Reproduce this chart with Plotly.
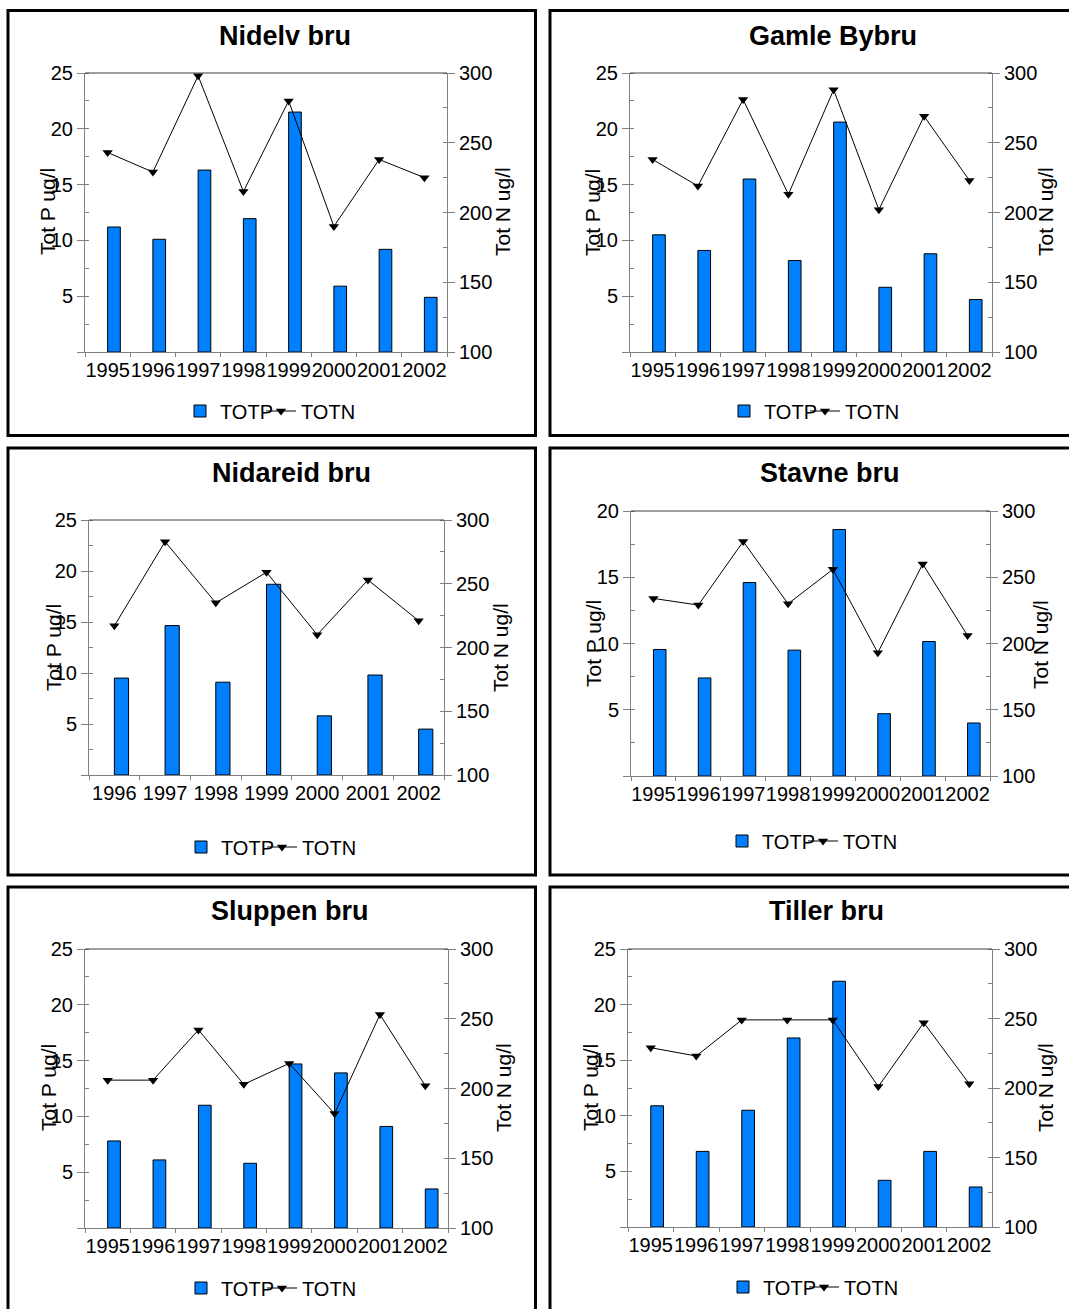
import plotly.graph_objects as go

# ---------------- data ----------------
years_nidelv = ["1995", "1996", "1997", "1998", "1999", "2000", "2001", "2002"]
totp_nidelv = [11.2, 10.1, 16.3, 11.95, 21.5, 5.9, 9.2, 4.9]
totn_nidelv = [243, 229, 298, 215, 280, 190, 238, 225]

years_gamle = ["1995", "1996", "1997", "1998", "1999", "2000", "2001", "2002"]
totp_gamle = [10.5, 9.1, 15.5, 8.2, 20.6, 5.8, 8.8, 4.7]
totn_gamle = [238, 219, 281, 213, 288, 202, 269, 223]

years_nidareid = ["1996", "1997", "1998", "1999", "2000", "2001", "2002"]
totp_nidareid = [9.5, 14.65, 9.1, 18.7, 5.8, 9.8, 4.5]
totn_nidareid = [217, 283, 235, 259, 210, 253, 221]

years_stavne = ["1995", "1996", "1997", "1998", "1999", "2000", "2001", "2002"]
totp_stavne = [9.55, 7.4, 14.6, 9.5, 18.6, 4.7, 10.15, 4.0]
totn_stavne = [234, 229, 277, 230, 256, 193, 260, 206]

years_sluppen = ["1995", "1996", "1997", "1998", "1999", "2000", "2001", "2002"]
totp_sluppen = [7.8, 6.1, 11.0, 5.8, 14.7, 13.9, 9.1, 3.5]
totn_sluppen = [206, 206, 242, 203, 218, 182, 253, 202]

years_tiller = ["1995", "1996", "1997", "1998", "1999", "2000", "2001", "2002"]
totp_tiller = [10.9, 6.8, 10.5, 17.0, 22.1, 4.2, 6.8, 3.6]
totn_tiller = [229, 223, 249, 249, 249, 201, 247, 203]

site_names = ["Nidelv bru", "Gamle Bybru", "Nidareid bru", "Stavne bru", "Sluppen bru", "Tiller bru"]
left_axis_max = [25, 25, 25, 20, 25, 25]
right_axis_range = [100, 300]
left_title = "Tot P ug/l"
right_title = "Tot N ug/l"
series_names = ["TOTP", "TOTN"]

site_years = [years_nidelv, years_gamle, years_nidareid, years_stavne, years_sluppen, years_tiller]
site_totp = [totp_nidelv, totp_gamle, totp_nidareid, totp_stavne, totp_sluppen, totp_tiller]
site_totn = [totn_nidelv, totn_gamle, totn_nidareid, totn_stavne, totn_sluppen, totn_tiller]

# ---------------- layout geometry (pixels) ----------------
W, H = 1069, 1309
FONT = "Arial, Liberation Sans, sans-serif"
BAR_COLOR = "#0080FF"
AXIS_COLOR = "#808080"

# plot area: left, right, top, bottom
plot_px = [
    (85, 447, 73, 352),
    (630, 992, 73, 352),
    (89, 444, 520, 775),
    (631, 990, 511, 776),
    (85, 448, 949, 1228),
    (628, 992, 949, 1227),
]
# panel frames: x0, y0, x1, y1
frame_px = [
    (8, 10.5, 535.5, 435.5),
    (550, 10.5, 1075, 435.5),
    (8, 448, 535.5, 875),
    (550, 448, 1075, 875),
    (8, 887, 535.5, 1320),
    (550, 887, 1075, 1320),
]
title_px = [(285, 36), (833, 36), (291, 473), (830, 473), (290, 911), (826, 911)]
ytitle_left_px = [(48, 212), (592, 213), (53, 648), (593, 644), (48, 1088), (590, 1088)]
ytitle_right_px = [(503, 212), (1046, 212), (500, 648), (1040, 645), (503, 1088), (1045, 1088)]
legend_px = [(200, 411), (744, 411), (201, 847), (742, 841), (201, 1288), (743, 1287)]


def fx(v):
    return v / W


def fy(v):
    return 1 - v / H


fig = go.Figure()
shapes = []
annotations = []
layout = {}

for i in range(6):
    n = i + 1
    xa = "x" if n == 1 else f"x{n}"
    xkey = "xaxis" if n == 1 else f"xaxis{n}"
    lid, rid = 2 * i + 1, 2 * i + 2
    yl = "y" if lid == 1 else f"y{lid}"
    ylkey = "yaxis" if lid == 1 else f"yaxis{lid}"
    yr = f"y{rid}"
    yrkey = f"yaxis{rid}"
    leg_bar = "legend" if lid == 1 else f"legend{lid}"
    leg_line = f"legend{rid}"

    years = site_years[i]
    fig.add_trace(go.Bar(
        x=years, y=site_totp[i], name=series_names[0],
        marker=dict(color=BAR_COLOR, line=dict(color="#000000", width=1)),
        offset=0, width=0.28, xaxis=xa, yaxis=yl, legend=leg_bar,
    ))
    fig.add_trace(go.Scatter(
        x=years, y=site_totn[i], name=series_names[1], mode="lines+markers",
        line=dict(color="#000000", width=1),
        marker=dict(symbol="triangle-down", size=9, color="#000000"),
        xaxis=xa, yaxis=yr, legend=leg_line,
    ))

    l, r, t, b = plot_px[i]
    layout[xkey] = dict(
        domain=[fx(l), fx(r)], anchor=yl, type="category",
        range=[-0.5, len(years) - 0.5],
        tickmode="linear", tick0=0, dtick=1, tickson="boundaries",
        ticks="outside", ticklen=4, tickcolor=AXIS_COLOR, tickangle=0,
        showline=True, linecolor=AXIS_COLOR, linewidth=1,
        showgrid=False, zeroline=False, automargin=False,
        tickfont=dict(family=FONT, size=20, color="#000000"),
    )
    lmax = left_axis_max[i]
    lticks = list(range(0, lmax + 1, 5))
    layout[ylkey] = dict(
        domain=[fy(b), fy(t)], anchor=xa, range=[0, lmax],
        tickmode="array", tickvals=lticks,
        ticktext=["" if v == 0 else str(v) for v in lticks],
        ticks="outside", ticklen=7, tickcolor=AXIS_COLOR,
        minor=dict(tickmode="linear", tick0=0, dtick=2.5, ticks="inside",
                   ticklen=4, tickcolor=AXIS_COLOR),
        showline=True, linecolor=AXIS_COLOR, linewidth=1,
        showgrid=False, zeroline=False, automargin=False,
        tickfont=dict(family=FONT, size=20, color="#000000"),
    )
    layout[yrkey] = dict(
        overlaying=yl, side="right", anchor=xa, range=right_axis_range,
        tickmode="linear", tick0=100, dtick=50,
        ticks="outside", ticklen=7, tickcolor=AXIS_COLOR,
        minor=dict(tickmode="linear", tick0=100, dtick=25, ticks="inside",
                   ticklen=4, tickcolor=AXIS_COLOR),
        showline=True, linecolor=AXIS_COLOR, linewidth=1,
        showgrid=False, zeroline=False, automargin=False,
        tickfont=dict(family=FONT, size=20, color="#000000"),
    )

    # top border of plot area
    shapes.append(dict(type="line", xref=f"{xa} domain", yref=f"{yl} domain",
                       x0=0, x1=1, y0=1, y1=1, line=dict(color="#404040", width=1)))
    # panel frame
    x0, y0, x1, y1 = frame_px[i]
    shapes.append(dict(type="rect", xref="paper", yref="paper",
                       x0=fx(x0), x1=fx(x1), y0=fy(y1), y1=fy(y0),
                       line=dict(color="#000000", width=3)))

    tx, ty = title_px[i]
    annotations.append(dict(text=f"<b>{site_names[i]}</b>", x=fx(tx), y=fy(ty),
                            xref="paper", yref="paper", showarrow=False,
                            xanchor="center", yanchor="middle",
                            font=dict(family=FONT, size=27, color="#000000")))
    ax_, ay_ = ytitle_left_px[i]
    annotations.append(dict(text=left_title, x=fx(ax_), y=fy(ay_), textangle=-90,
                            xref="paper", yref="paper", showarrow=False,
                            xanchor="center", yanchor="middle",
                            font=dict(family=FONT, size=21, color="#000000")))
    ax_, ay_ = ytitle_right_px[i]
    annotations.append(dict(text=right_title, x=fx(ax_), y=fy(ay_), textangle=-90,
                            xref="paper", yref="paper", showarrow=False,
                            xanchor="center", yanchor="middle",
                            font=dict(family=FONT, size=21, color="#000000")))

    lx, ly = legend_px[i]
    common_leg = dict(orientation="h", xanchor="left", y=fy(ly), yanchor="middle",
                      font=dict(family=FONT, size=20, color="#000000"),
                      bgcolor="rgba(0,0,0,0)", borderwidth=0)
    layout[leg_bar] = dict(x=fx(lx - 20), **common_leg)
    layout[leg_line] = dict(x=fx(lx + 61), **common_leg)

fig.update_layout(
    width=W, height=H, margin=dict(l=0, r=0, t=0, b=0, pad=0, autoexpand=False),
    paper_bgcolor="white", plot_bgcolor="white",
    showlegend=True, shapes=shapes, annotations=annotations,
    font=dict(family=FONT, color="#000000"),
    **layout,
)

fig.write_html("out.html", config={"displayModeBar": False},
               post_script="document.body.style.margin='0';document.body.style.overflow='hidden';")
